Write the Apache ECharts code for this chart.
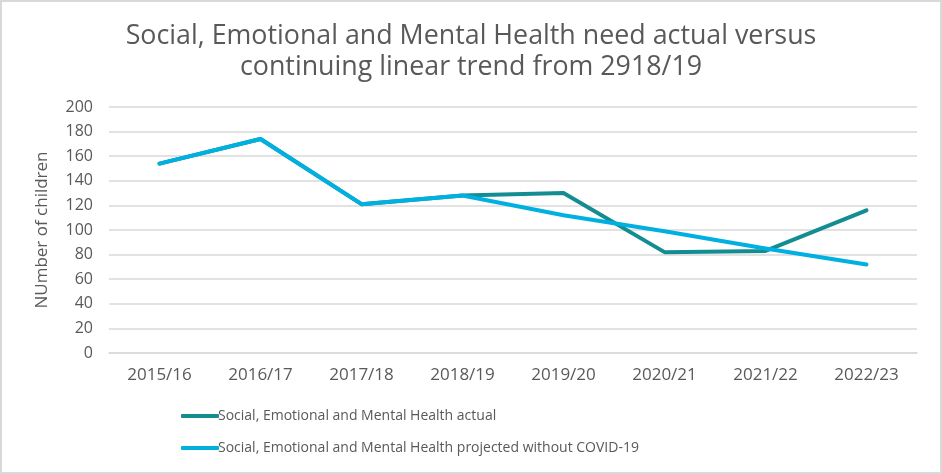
<!DOCTYPE html>
<html>
<head>
<meta charset="utf-8">
<script src="https://cdn.jsdelivr.net/npm/echarts@6/dist/echarts.min.js"></script>
<style>
html, body { margin: 0; padding: 0; background: #fff; }
#main { width: 942px; height: 474px; box-sizing: border-box; border: 2px solid #d9d9d9; }
</style>
</head>
<body>
<div id="main"></div>
<script>
var years = ['2015/16', '2016/17', '2017/18', '2018/19', '2019/20', '2020/21', '2021/22', '2022/23'];
var actual = [154, 174, 121, 128, 130, 82, 83, 116];
var projected = [154, 174, 121, 128, 112, 99, 85, 72];
var yTicks = { min: 0, max: 200, interval: 20 };

var font = 'Open Sans';
var grey = '#595959';

var myChart = echarts.init(document.getElementById('main'));
var option = {
	animation: false,
	title: {
		text: 'Social, Emotional and Mental Health need actual versus\ncontinuing linear trend from 2918/19',
		left: 'center',
		top: 14,
		textStyle: {
			fontFamily: font,
			fontSize: 26.8,
			fontWeight: 'normal',
			color: grey,
			lineHeight: 31
		}
	},
	legend: {
		orient: 'vertical',
		left: 174,
		top: 402,
		itemGap: 18,
		itemWidth: 38,
		itemHeight: 4,
		icon: 'roundRect',
		textStyle: { fontFamily: font, fontSize: 14, color: grey, padding: [0, 0, 0, -6] },
		data: ['Social, Emotional and Mental Health actual', 'Social, Emotional and Mental Health projected without COVID-19']
	},
	grid: { left: 107, right: 23, top: 105, bottom: 119 },
	xAxis: {
		type: 'category',
		data: years,
		axisLine: { lineStyle: { color: '#d9d9d9', width: 1.5 } },
		axisTick: { show: false },
		axisLabel: { fontFamily: font, fontSize: 17, color: grey, margin: 14 }
	},
	yAxis: {
		type: 'value',
		min: yTicks.min,
		max: yTicks.max,
		interval: yTicks.interval,
		name: 'NUmber of children',
		nameLocation: 'middle',
		nameGap: 58,
		nameTextStyle: { fontFamily: font, fontSize: 17, color: grey },
		axisLabel: { fontFamily: font, fontSize: 16, color: grey, margin: 16 },
		splitLine: { lineStyle: { color: '#d9d9d9', width: 1.5 } }
	},
	series: [
		{
			name: 'Social, Emotional and Mental Health actual',
			type: 'line',
			data: actual,
			symbol: 'none',
			color: '#138c92',
			lineStyle: { width: 4, color: '#138c92', cap: 'round', join: 'round' }
		},
		{
			name: 'Social, Emotional and Mental Health projected without COVID-19',
			type: 'line',
			data: projected,
			symbol: 'none',
			color: '#00b0e0',
			lineStyle: { width: 4, color: '#00b0e0', cap: 'round', join: 'round' }
		}
	]
};
myChart.setOption(option);
</script>
</body>
</html>
